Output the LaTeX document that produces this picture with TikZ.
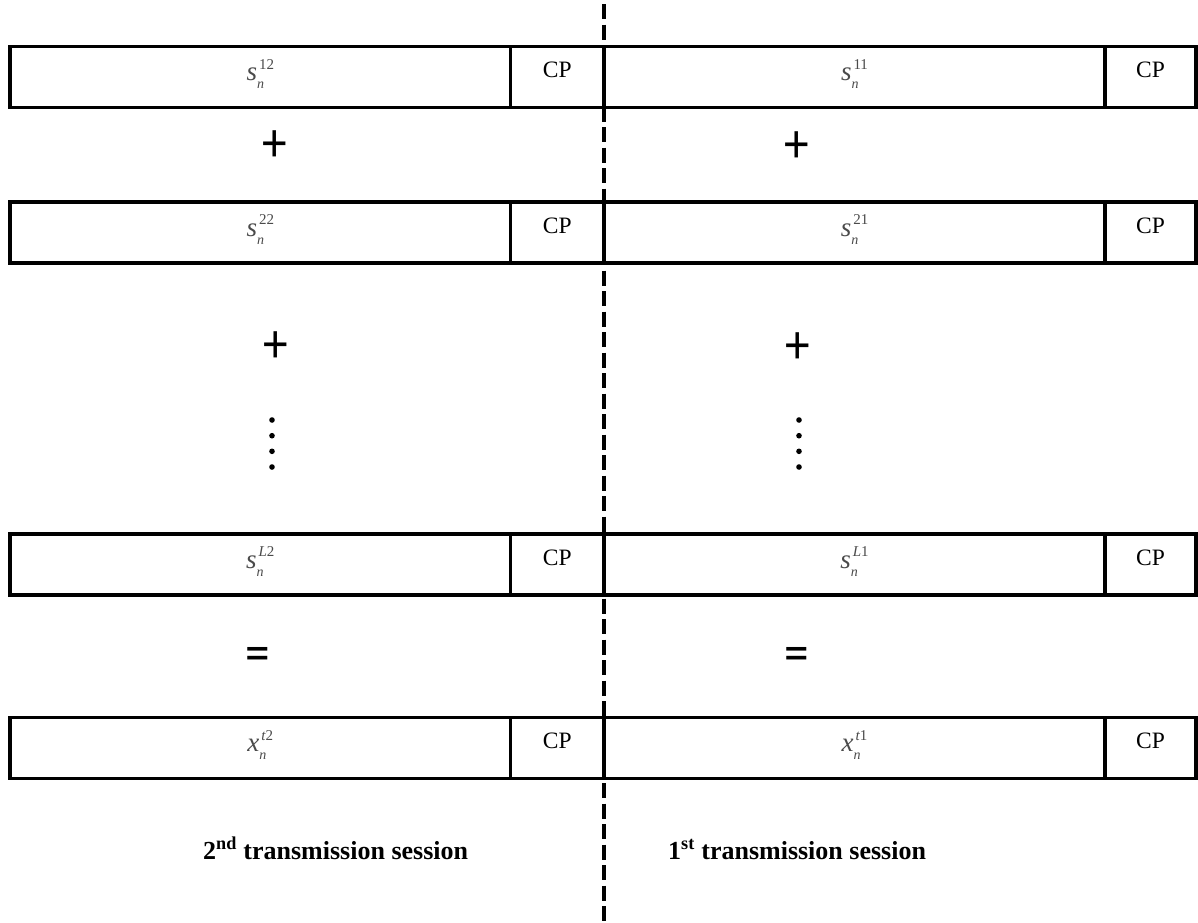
\documentclass[tikz,border=0pt]{standalone}
\usepackage{fontspec}
\setmainfont{Liberation Serif}
\newfontfamily\opfont{Carlito}
\definecolor{lblgray}{HTML}{4A4A4A}
\newcommand{\lbl}[2]{\textit{#1}\makebox[0pt][l]{\raisebox{-8pt}{\fontsize{14}{14}\selectfont\textit{n}}}\hspace{2pt}\raisebox{11.5pt}{\fontsize{15}{15}\selectfont #2}}
\begin{document}
\begin{tikzpicture}[x=1pt,y=-1pt,
  cell/.style={draw, line width=3.2pt, inner sep=0pt, minimum height=61pt},
  lbl/.style={inner sep=0pt, anchor=base, text=lblgray, font=\fontsize{27}{27}\selectfont},
  cptext/.style={inner sep=0pt, anchor=base, font=\fontsize{23.5}{24}\selectfont},
  op/.style={inner sep=0pt, font=\opfont\fontsize{56}{56}\selectfont},
  sess/.style={inner sep=0pt, anchor=base west, font=\bfseries\fontsize{26}{28}\selectfont},
  dot/.style={fill=black}]
\useasboundingbox (0,0) rectangle (1198,922);
% rows: centers y
\foreach \r/\y in {1/77, 2/232.5, 3/564.5, 4/748}{
  \node[cell, minimum width=500.5pt] (L\r d) at (260.25,\y) {};
  \node[cell, minimum width=93.5pt] (L\r c) at (557.25,\y) {};
  \node[cell, minimum width=501pt] (R\r d) at (854.5,\y) {};
  \node[cell, minimum width=91pt] (R\r c) at (1150.5,\y) {};
  \node[cptext] (L\r cp) at ([yshift=-33pt]L\r c.north) {CP};
  \node[cptext] (R\r cp) at ([yshift=-33pt]R\r c.north) {CP};
}
% labels
\node[lbl] (l1) at ([yshift=-36pt]L1d.north) {\lbl{s}{12}};
\node[lbl] (r1) at ([yshift=-36pt]R1d.north) {\lbl{s}{11}};
\node[lbl] (l2) at ([yshift=-36pt]L2d.north) {\lbl{s}{22}};
\node[lbl] (r2) at ([yshift=-36pt]R2d.north) {\lbl{s}{21}};
\node[lbl] (l3) at ([yshift=-36pt]L3d.north) {\lbl{s}{\textit{L}2}};
\node[lbl] (r3) at ([yshift=-36pt]R3d.north) {\lbl{s}{\textit{L}1}};
\node[lbl] (l4) at ([yshift=-36pt]L4d.north) {\lbl{x}{\textit{t}2}};
\node[lbl] (r4) at ([yshift=-36pt]R4d.north) {\lbl{x}{\textit{t}1}};
% operators
\node[op] (pl1) at (274.5,146) {\scalebox{0.88}[1]{+}};
\node[op] (pr1) at (797,147) {\scalebox{0.88}[1]{+}};
\node[op] (pl2) at (276,347) {\scalebox{0.88}[1]{+}};
\node[op] (pr2) at (798,348) {\scalebox{0.88}[1]{+}};
\node[op] (el) at (257.5,659) {\scalebox{0.88}[1]{=}};
\node[op] (er) at (797,659) {\scalebox{0.88}[1]{=}};
% vertical dots
\foreach \yy in {420,435.7,451.3,467}{
  \fill[dot] (272,\yy) circle (2.8);
  \fill[dot] (799,\yy) circle (2.8);
}
% dashed divider
\coordinate (top) at (604,0);
\coordinate (bot) at (604,922);
\draw[line width=4pt, dash pattern=on 15pt off 5.5pt, dash phase=16.5pt] (top) -- (bot);
% session labels
\node[sess] (s2) at (203,859) {2\textsuperscript{nd} transmission session};
\node[sess] (s1) at (668,859) {1\textsuperscript{st} transmission session};
\end{tikzpicture}
\end{document}
